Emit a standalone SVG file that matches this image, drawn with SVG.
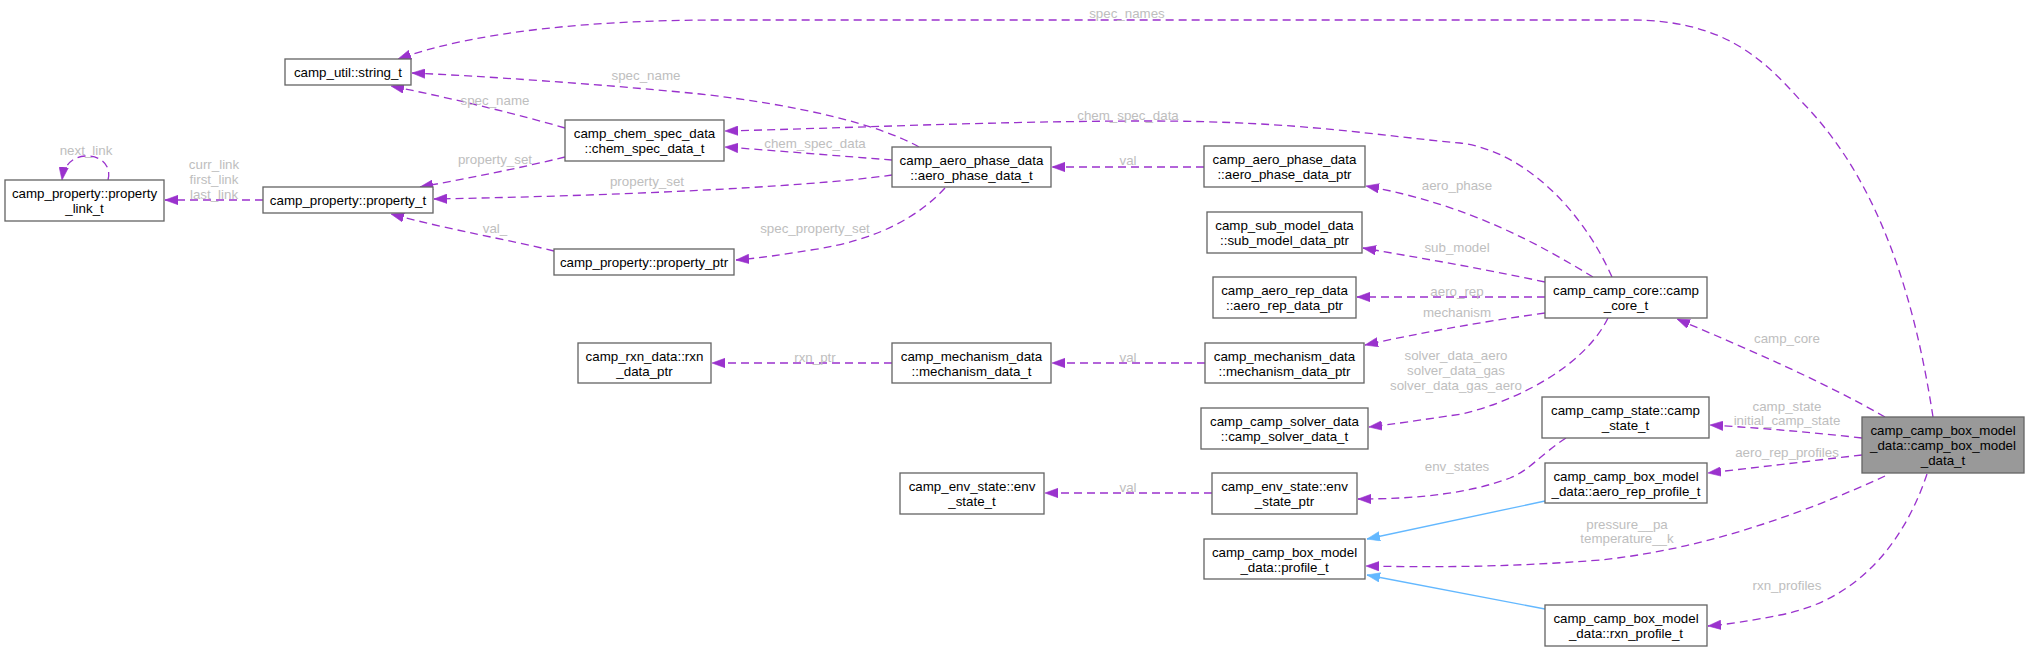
<svg xmlns="http://www.w3.org/2000/svg" width="2029" height="651" viewBox="0 0 2029 651">
<style>
.n rect{fill:#ffffff;stroke:#666666;stroke-width:1.33}
.n.main rect{fill:#999999}
.n text{font-family:"Liberation Sans",Arial,Helvetica,sans-serif;font-size:13.33px;fill:#000000;text-anchor:middle}
.e path{fill:none;stroke:#9a32cd;stroke-width:1.33;stroke-dasharray:8,5}
.e path.inh{stroke:#63b8ff;stroke-dasharray:none}
.lbl text{font-family:"Liberation Sans",Arial,Helvetica,sans-serif;font-size:13.33px;fill:#bebebe;text-anchor:middle}
</style>
<defs>
<marker id="ap" markerUnits="userSpaceOnUse" markerWidth="14" markerHeight="10" refX="13" refY="5" orient="auto" viewBox="0 0 14 10"><path d="M0,0.3 L13,5 L0,9.7 Z" fill="#9a32cd" stroke="#9a32cd" stroke-width="0.6"/></marker>
<marker id="ab" markerUnits="userSpaceOnUse" markerWidth="14" markerHeight="10" refX="13" refY="5" orient="auto" viewBox="0 0 14 10"><path d="M0,0.3 L13,5 L0,9.7 Z" fill="#63b8ff" stroke="#63b8ff" stroke-width="0.6"/></marker>
</defs>
<rect width="2029" height="651" fill="#ffffff"/>
<g id="connectors" class="e">
<path marker-end="url(#ap)" d="M1933,417 C1915,300 1880,180 1800,100 C1760,55 1720,20 1630,20 L720,20 C600,20 480,30 398,59"/>
<path marker-end="url(#ap)" d="M1612,277 C1580,205 1520,150 1460,143 C1380,136 1300,121 1150,121 C1000,121 850,128 725,131"/>
<path marker-end="url(#ap)" d="M892,160 C840,156 780,151 725,147"/>
<path marker-end="url(#ap)" d="M919,147 C880,125 800,105 700,94 C600,84 480,76 412,73"/>
<path marker-end="url(#ap)" d="M565,128 C520,115 460,100 391,86"/>
<path marker-end="url(#ap)" d="M565,157 C520,168 470,178 420,187"/>
<path marker-end="url(#ap)" d="M892,175 C800,188 600,196 434,199"/>
<path marker-end="url(#ap)" d="M945,188 C920,215 880,240 811,250 C780,255 760,258 736,260"/>
<path marker-end="url(#ap)" d="M554,251 C510,240 450,230 391,214"/>
<path marker-end="url(#ap)" d="M263,200 L165,200"/>
<path marker-end="url(#ap)" d="M108,180 C112,165 100,155 85,156 C72,157 64,165 62,180"/>
<path marker-end="url(#ap)" d="M1204,167 L1052,167"/>
<path marker-end="url(#ap)" d="M1593,277 C1540,245 1470,205 1366,186"/>
<path marker-end="url(#ap)" d="M1545,282 C1480,268 1420,258 1363,248"/>
<path marker-end="url(#ap)" d="M1545,297 L1357,297"/>
<path marker-end="url(#ap)" d="M1545,313 C1480,322 1420,333 1365,345"/>
<path marker-end="url(#ap)" d="M1205,363 L1052,363"/>
<path marker-end="url(#ap)" d="M892,363 L712,363"/>
<path marker-end="url(#ap)" d="M1608,318 C1585,365 1520,400 1462,414 C1420,420 1395,424 1369,427"/>
<path marker-end="url(#ap)" d="M1885,417 C1820,380 1750,350 1677,319"/>
<path marker-end="url(#ap)" d="M1862,438 C1810,432 1760,428 1710,425"/>
<path marker-end="url(#ap)" d="M1862,455 C1810,461 1760,467 1708,473"/>
<path marker-end="url(#ap)" d="M1566,438 C1540,455 1530,470 1510,478 C1470,493 1420,499 1358,499"/>
<path marker-end="url(#ap)" d="M1212,493 L1045,493"/>
<path marker-end="url(#ap)" d="M1885,476 C1800,515 1700,550 1600,560 C1500,568 1420,567 1366,566"/>
<path marker-end="url(#ap)" d="M1927,474 C1905,540 1860,600 1780,615 C1750,621 1730,624 1708,626"/>
<path class="inh" marker-end="url(#ab)" d="M1545,501 L1367,539"/>
<path class="inh" marker-end="url(#ab)" d="M1545,609 L1367,575"/>
</g>
<g id="edge-labels" class="lbl">
<text x="1127" y="17.5">spec_names</text>
<text x="1128" y="119.5">chem_spec_data</text>
<text x="815" y="147.5">chem_spec_data</text>
<text x="646" y="79.5">spec_name</text>
<text x="495" y="104.5">spec_name</text>
<text x="495" y="163.5">property_set</text>
<text x="647" y="185.5">property_set</text>
<text x="815" y="232.5">spec_property_set</text>
<text x="495" y="232.5">val_</text>
<text x="214" y="168.5">curr_link</text>
<text x="214" y="183.5">first_link</text>
<text x="214" y="198.5">last_link</text>
<text x="86" y="154.5">next_link</text>
<text x="1128" y="165">val</text>
<text x="1457" y="189.5">aero_phase</text>
<text x="1457" y="251.5">sub_model</text>
<text x="1457" y="295.5">aero_rep</text>
<text x="1457" y="316.5">mechanism</text>
<text x="1128" y="361.5">val</text>
<text x="815" y="361.5">rxn_ptr</text>
<text x="1456" y="360">solver_data_aero</text>
<text x="1456" y="375">solver_data_gas</text>
<text x="1456" y="390">solver_data_gas_aero</text>
<text x="1787" y="342.5">camp_core</text>
<text x="1787" y="410.5">camp_state</text>
<text x="1787" y="425">initial_camp_state</text>
<text x="1787" y="456.5">aero_rep_profiles</text>
<text x="1457" y="470.5">env_states</text>
<text x="1128" y="491.5">val</text>
<text x="1627" y="528.5">pressure__pa</text>
<text x="1627" y="543">temperature__k</text>
<text x="1787" y="589.5">rxn_profiles</text>
</g>
<g id="node-string_t" class="n"><rect x="285" y="59" width="126" height="26"/><text x="348" y="76.5">camp_util::string_t</text></g>
<g id="node-property_link_t" class="n"><rect x="5" y="180" width="159" height="41"/><text x="84.5" y="198">camp_property::property</text><text x="84.5" y="213">_link_t</text></g>
<g id="node-property_t" class="n"><rect x="263" y="187" width="170" height="26"/><text x="348" y="204.5">camp_property::property_t</text></g>
<g id="node-chem_spec_data_t" class="n"><rect x="565" y="120" width="159" height="41"/><text x="644.5" y="138">camp_chem_spec_data</text><text x="644.5" y="153">::chem_spec_data_t</text></g>
<g id="node-aero_phase_data_t" class="n"><rect x="892" y="147" width="159" height="40"/><text x="971.5" y="165">camp_aero_phase_data</text><text x="971.5" y="180">::aero_phase_data_t</text></g>
<g id="node-property_ptr" class="n"><rect x="554" y="249" width="180" height="26"/><text x="644" y="266.5">camp_property::property_ptr</text></g>
<g id="node-rxn_data_ptr" class="n"><rect x="578" y="343" width="133" height="40"/><text x="644.5" y="361">camp_rxn_data::rxn</text><text x="644.5" y="376">_data_ptr</text></g>
<g id="node-mechanism_data_t" class="n"><rect x="892" y="343" width="159" height="40"/><text x="971.5" y="361">camp_mechanism_data</text><text x="971.5" y="376">::mechanism_data_t</text></g>
<g id="node-aero_phase_data_ptr" class="n"><rect x="1204" y="146" width="161" height="41"/><text x="1284.5" y="164">camp_aero_phase_data</text><text x="1284.5" y="179">::aero_phase_data_ptr</text></g>
<g id="node-sub_model_data_ptr" class="n"><rect x="1207" y="212" width="155" height="41"/><text x="1284.5" y="230">camp_sub_model_data</text><text x="1284.5" y="245">::sub_model_data_ptr</text></g>
<g id="node-aero_rep_data_ptr" class="n"><rect x="1213" y="277" width="143" height="41"/><text x="1284.5" y="295">camp_aero_rep_data</text><text x="1284.5" y="310">::aero_rep_data_ptr</text></g>
<g id="node-camp_core_t" class="n"><rect x="1545" y="277" width="162" height="41"/><text x="1626" y="295">camp_camp_core::camp</text><text x="1626" y="310">_core_t</text></g>
<g id="node-mechanism_data_ptr" class="n"><rect x="1205" y="343" width="159" height="40"/><text x="1284.5" y="361">camp_mechanism_data</text><text x="1284.5" y="376">::mechanism_data_ptr</text></g>
<g id="node-camp_solver_data_t" class="n"><rect x="1201" y="408" width="167" height="41"/><text x="1284.5" y="426">camp_camp_solver_data</text><text x="1284.5" y="441">::camp_solver_data_t</text></g>
<g id="node-env_state_t" class="n"><rect x="900" y="473" width="144" height="41"/><text x="972" y="491">camp_env_state::env</text><text x="972" y="506">_state_t</text></g>
<g id="node-env_state_ptr" class="n"><rect x="1212" y="473" width="145" height="41"/><text x="1284.5" y="491">camp_env_state::env</text><text x="1284.5" y="506">_state_ptr</text></g>
<g id="node-profile_t" class="n"><rect x="1204" y="539" width="161" height="40"/><text x="1284.5" y="557">camp_camp_box_model</text><text x="1284.5" y="572">_data::profile_t</text></g>
<g id="node-camp_state_t" class="n"><rect x="1542" y="397" width="167" height="41"/><text x="1625.5" y="415">camp_camp_state::camp</text><text x="1625.5" y="430">_state_t</text></g>
<g id="node-aero_rep_profile_t" class="n"><rect x="1545" y="463" width="162" height="40"/><text x="1626" y="481">camp_camp_box_model</text><text x="1626" y="496">_data::aero_rep_profile_t</text></g>
<g id="node-rxn_profile_t" class="n"><rect x="1545" y="605" width="162" height="41"/><text x="1626" y="623">camp_camp_box_model</text><text x="1626" y="638">_data::rxn_profile_t</text></g>
<g id="node-camp_box_model_data_t" class="n main"><rect x="1862" y="417" width="162" height="56"/><text x="1943" y="435">camp_camp_box_model</text><text x="1943" y="450">_data::camp_box_model</text><text x="1943" y="465">_data_t</text></g>
</svg>
